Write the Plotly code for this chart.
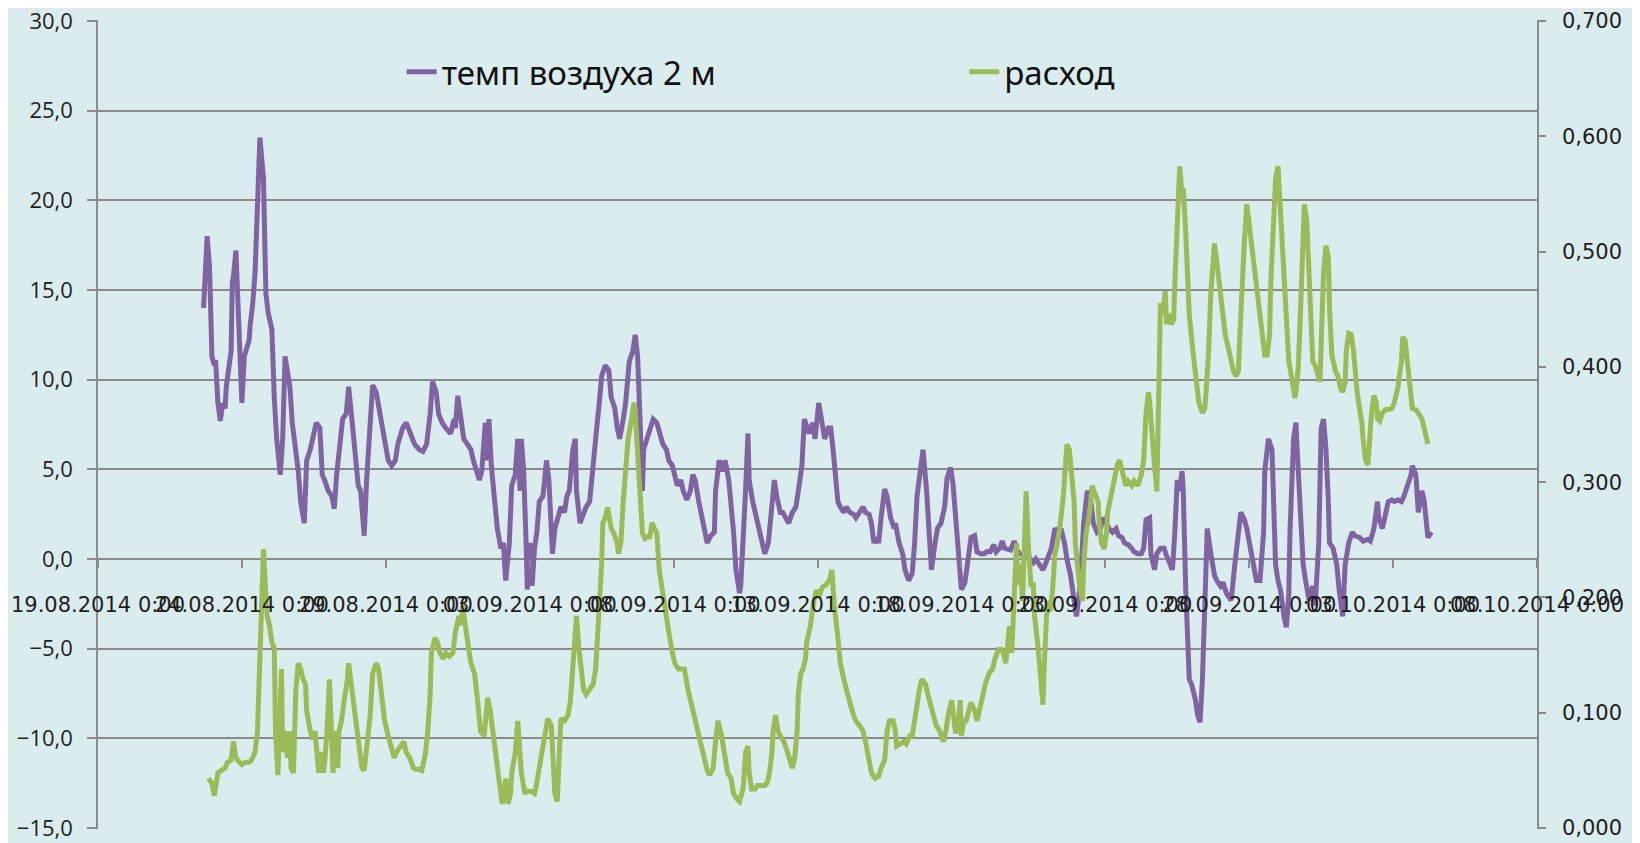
import pandas as pd
import plotly.graph_objects as go

BASE = pd.Timestamp("2014-08-19 00:00")

# air temperature at 2 m: hours since 19.08.2014 0:00 and values (°C)
temp_hours = [88, 91, 93, 95, 97, 98, 100, 102, 104, 106, 107, 109, 111, 112, 113, 115, 117, 119, 120, 122,
              124, 126, 127, 129, 131, 133, 135, 138, 140, 142, 145, 147, 149, 152, 154, 156, 158, 160, 162, 165,
              167, 169, 172, 174, 177, 180, 182, 185, 187, 189, 192, 195, 197, 199, 202, 204, 207, 209, 212, 215,
              217, 219, 222, 224, 227, 229, 232, 235, 237, 240, 242, 245, 248, 250, 254, 257, 261, 264, 268, 271,
              274, 277, 279, 282, 284, 287, 290, 294, 297, 298, 300, 303, 305, 308, 311, 313, 316, 318, 320, 323,
              324, 326, 328, 331, 333, 336, 338, 340, 343, 345, 348, 350, 352, 353, 355, 357, 358, 360, 362, 364,
              366, 368, 371, 372, 374, 376, 378, 379, 381, 384, 386, 389, 391, 393, 396, 398, 399, 402, 405, 407,
              410, 412, 415, 418, 420, 423, 426, 428, 431, 433, 435, 438, 440, 443, 446, 448, 450, 452, 454, 455,
              458, 460, 463, 466, 468, 471, 474, 476, 479, 481, 483, 486, 488, 491, 494, 496, 498, 501, 503, 506,
              508, 511, 514, 515, 518, 521, 523, 526, 528, 530, 532, 535, 536, 538, 540, 542, 543, 546, 549, 551,
              554, 556, 559, 562, 564, 566, 569, 571, 574, 576, 579, 582, 584, 587, 589, 590, 593, 596, 598, 601,
              604, 606, 609, 611, 613, 615, 617, 619, 622, 624, 627, 630, 632, 635, 638, 640, 643, 645, 647, 649,
              651, 653, 656, 658, 661, 664, 665, 668, 671, 673, 676, 679, 681, 683, 686, 688, 691, 693, 695, 698,
              700, 703, 706, 708, 711, 713, 716, 718, 720, 723, 726, 728, 731, 733, 736, 739, 741, 744, 747, 749,
              752, 754, 756, 759, 761, 764, 767, 769, 772, 774, 777, 780, 782, 785, 788, 790, 793, 795, 798, 801,
              803, 806, 808, 811, 814, 816, 819, 822, 825, 828, 830, 833, 836, 838, 841, 843, 846, 849, 851, 854,
              856, 859, 862, 864, 867, 870, 872, 874, 877, 878, 881, 883, 886, 889, 891, 894, 896, 898, 900, 902,
              904, 905, 907, 910, 912, 915, 917, 919, 921, 923, 925, 928, 931, 933, 936, 938, 941, 944, 945, 948,
              951, 953, 956, 958, 961, 964, 966, 969, 972, 973, 976, 979, 980, 982, 984, 986, 989, 991, 993, 994,
              997, 999, 1000, 1002, 1005, 1007, 1010, 1013, 1015, 1018, 1020, 1022, 1024, 1026, 1027, 1030, 1033,
              1035, 1038, 1040, 1043, 1046, 1048, 1052, 1055, 1059, 1061, 1064, 1067, 1068, 1071, 1074, 1076, 1079,
              1081, 1084, 1087, 1089, 1092, 1095, 1096, 1099, 1101, 1102, 1104, 1106, 1108, 1109, 1112]
temp_values = [14.0, 18.0, 16.3, 11.3, 10.8, 11.1, 8.7, 7.7, 8.7, 8.4, 9.6, 10.8, 11.6, 15.4, 15.8, 17.2, 13.7, 9.0, 8.7, 11.3,
               11.9, 12.2, 13.1, 14.2, 16.0, 19.5, 23.5, 21.2, 14.8, 13.7, 12.8, 9.0, 6.7, 4.7, 6.7, 11.3, 10.2, 9.6, 7.6, 6.1,
               4.9, 3.2, 2.0, 5.5, 6.1, 7.0, 7.6, 7.3, 4.7, 4.4, 3.8, 3.5, 2.8, 4.7, 6.7, 7.8, 8.1, 9.6, 7.6, 5.5,
               4.1, 3.8, 1.3, 4.4, 7.8, 9.7, 9.3, 8.1, 7.3, 6.1, 5.5, 5.2, 5.5, 6.4, 7.3, 7.6, 7.0, 6.4, 6.1, 6.0,
               6.4, 8.1, 9.9, 9.3, 8.1, 7.6, 7.3, 7.0, 7.8, 7.3, 9.1, 7.6, 6.7, 6.4, 6.1, 5.5, 4.9, 4.4, 4.9, 7.6,
               5.5, 7.8, 5.2, 3.2, 1.7, 0.6, 0.9, -1.2, 0.9, 4.1, 4.7, 6.7, 3.8, 6.7, 4.9, 0.9, -1.7, 0.9, -1.5, 0.6,
               1.5, 3.2, 3.5, 4.1, 5.5, 4.4, 1.5, 0.3, 1.7, 2.6, 2.9, 2.6, 3.5, 3.8, 6.1, 6.7, 3.8, 2.0, 2.6, 2.9,
               3.2, 4.9, 6.7, 8.7, 10.2, 10.8, 10.5, 9.0, 8.4, 7.3, 6.7, 7.8, 8.7, 11.0, 11.6, 12.5, 11.3, 7.8, 3.8, 6.1,
               6.7, 7.3, 7.8, 7.6, 7.0, 6.4, 6.1, 5.5, 5.2, 4.7, 4.1, 4.4, 3.8, 3.3, 3.8, 4.7, 4.4, 3.2, 2.6, 1.5,
               0.9, 1.3, 1.5, 3.8, 5.5, 4.9, 5.5, 4.4, 3.2, 1.5, -0.6, -1.9, -1.5, 0.9, 3.8, 7.0, 4.4, 3.2, 2.3, 1.5,
               0.6, 0.3, 0.9, 2.9, 4.4, 3.5, 2.6, 2.6, 2.3, 2.0, 2.6, 2.9, 3.8, 5.2, 7.8, 7.6, 7.0, 7.6, 6.7, 8.7,
               7.6, 6.7, 7.3, 7.3, 6.1, 4.4, 3.2, 2.9, 2.6, 2.9, 2.6, 2.5, 2.3, 2.6, 2.9, 2.6, 2.5, 2.0, 0.9, 1.2,
               0.9, 2.3, 3.9, 3.5, 2.3, 1.7, 2.0, 0.9, 0.3, -0.6, -1.2, -0.8, 0.9, 3.5, 5.2, 6.1, 3.8, 1.5, -0.6, 0.9,
               1.7, 2.0, 2.9, 4.5, 5.1, 4.2, 1.7, -0.6, -1.7, -1.3, 0.3, 1.2, 1.3, 0.4, 0.3, 0.3, 0.4, 0.4, 0.8, 0.4,
               0.6, 1.0, 0.6, 0.5, 0.5, 1.0, 0.4, 0.3, 0.2, 0.3, 0.0, -0.2, 0.0, -0.3, -0.6, -0.3, 0.3, 0.6, 1.7, 1.5,
               1.7, 0.9, 0.0, -0.9, -2.3, -3.2, -1.5, 2.0, 3.8, 3.2, 2.0, 1.5, 1.7, 2.3, 2.0, 1.7, 1.5, 1.7, 1.3, 1.2,
               0.9, 0.8, 0.6, 0.4, 0.3, 0.3, 0.6, 2.2, 2.3, 0.3, -0.6, 0.3, 0.6, 0.6, 0.2, -0.3, -0.6, 1.5, 4.4, 3.8,
               4.9, 3.8, -1.5, -6.7, -7.0, -7.8, -8.7, -9.1, -6.7, -2.6, 1.7, 0.3, -0.9, -1.2, -1.5, -1.3, -1.9, -2.2, -2.3, -0.3,
               1.5, 2.6, 2.2, 1.7, 0.6, -0.3, -1.2, -1.2, 1.5, 4.9, 6.7, 6.1, 3.2, -0.3, -1.2, -1.7, -3.2, -3.8, -2.0, 1.5,
               6.7, 7.6, 6.1, 3.2, -0.3, -1.2, -2.3, -1.5, -2.6, 0.9, 7.3, 7.8, 6.1, 3.2, 0.9, 0.6, -0.3,
               -1.7, -3.2, -0.3, 0.9, 1.5, 1.3, 1.2, 1.0, 1.1, 1.0, 1.7, 3.2, 2.3, 1.7, 2.6, 3.2, 3.3,
               3.2, 3.3, 3.2, 3.5, 4.1, 4.7, 5.2, 4.7, 2.6, 3.2, 3.8, 3.2, 1.7, 1.2, 1.5]

# discharge: hours since 19.08.2014 0:00 and values
flow_hours = [92, 95, 97, 99, 100, 103, 106, 108, 111, 113, 115, 118, 120, 123, 126, 128, 131, 133, 135, 137,
              138, 140, 141, 143, 145, 147, 148, 150, 152, 153, 154, 156, 158, 160, 161, 163, 165, 167, 169, 171,
              173, 174, 177, 179, 181, 182, 184, 186, 188, 189, 191, 193, 194, 196, 198, 200, 201, 203, 206, 208,
              209, 211, 213, 215, 217, 220, 222, 224, 227, 229, 232, 234, 236, 239, 242, 244, 247, 249, 252, 255,
              257, 260, 263, 265, 268, 270, 273, 275, 277, 278, 281, 283, 285, 288, 290, 293, 296, 298, 301, 303,
              304, 306, 309, 311, 314, 316, 317, 319, 322, 324, 325, 327, 329, 331, 333, 335, 337, 338, 340, 342,
              344, 345, 348, 350, 351, 353, 356, 358, 361, 364, 365, 368, 371, 373, 375, 378, 379, 381, 383, 385,
              386, 389, 392, 394, 396, 398, 399, 401, 403, 405, 407, 410, 413, 415, 418, 420, 421, 423, 425, 427,
              428, 430, 433, 434, 436, 438, 440, 442, 445, 447, 448, 450, 452, 454, 456, 459, 460, 462, 464, 466,
              468, 471, 474, 476, 479, 481, 484, 487, 489, 492, 495, 497, 500, 502, 505, 508, 510, 513, 515, 517,
              520, 522, 525, 528, 530, 533, 535, 538, 540, 542, 543, 545, 548, 550, 553, 556, 558, 560, 562, 563,
              565, 567, 569, 572, 575, 577, 579, 581, 583, 584, 586, 588, 590, 591, 594, 597, 599, 602, 604, 607,
              610, 612, 614, 617, 619, 622, 624, 627, 630, 632, 635, 638, 640, 643, 645, 648, 651, 653, 656, 658,
              660, 663, 665, 666, 669, 672, 674, 677, 679, 681, 683, 685, 687, 690, 692, 694, 697, 699, 702, 705,
              707, 709, 712, 713, 715, 717, 719, 720, 722, 724, 726, 728, 731, 733, 735, 738, 740, 743, 746, 748,
              751, 753, 755, 757, 759, 760, 762, 764, 766, 767, 769, 771, 773, 774, 776, 778, 780, 781, 784, 786,
              788, 789, 791, 793, 794, 796, 798, 800, 802, 805, 807, 808, 810, 812, 814, 815, 817, 819, 821, 822,
              824, 827, 829, 831, 834, 835, 837, 839, 841, 842, 845, 848, 850, 852, 854, 856, 857, 859, 862, 864,
              867, 870, 872, 874, 876, 877, 879, 881, 883, 884, 886, 888, 890, 891, 893, 895, 897, 898, 900, 902,
              904, 905, 907, 909, 910, 913, 916, 918, 921, 923, 924, 926, 928, 930, 931, 933, 935, 937, 938, 940,
              942, 944, 945, 947, 949, 951, 952, 954, 956, 958, 959, 961, 963, 965, 968, 971, 973, 975, 977, 978,
              980, 982, 984, 985, 987, 989, 991, 993, 996, 998, 999, 1001, 1003, 1005, 1006, 1008, 1010, 1012, 1013, 1015,
              1017, 1019, 1020, 1022, 1024, 1026, 1027, 1029, 1032, 1034, 1036, 1038, 1040, 1041, 1043, 1045, 1047, 1048, 1050, 1052,
              1054, 1055, 1057, 1059, 1060, 1062, 1064, 1066, 1067, 1069, 1071, 1074, 1076, 1079, 1081, 1084, 1087, 1088, 1090, 1092,
              1094, 1096, 1099, 1101, 1104, 1107, 1109]
flow_values = [0.043, 0.039, 0.028, 0.039, 0.048, 0.050, 0.052, 0.057, 0.059, 0.075, 0.061, 0.057, 0.055, 0.057, 0.057, 0.059, 0.066, 0.084, 0.156, 0.211,
               0.242, 0.202, 0.184, 0.176, 0.161, 0.156, 0.084, 0.046, 0.102, 0.138, 0.066, 0.084, 0.061, 0.084, 0.052, 0.048, 0.120, 0.143, 0.138, 0.129,
               0.125, 0.102, 0.084, 0.077, 0.084, 0.066, 0.048, 0.066, 0.048, 0.057, 0.084, 0.129, 0.093, 0.048, 0.084, 0.052, 0.084, 0.093, 0.116, 0.129,
               0.143, 0.125, 0.111, 0.093, 0.075, 0.052, 0.050, 0.066, 0.098, 0.134, 0.143, 0.138, 0.116, 0.093, 0.080, 0.071, 0.061, 0.066, 0.071, 0.075,
               0.066, 0.061, 0.052, 0.051, 0.051, 0.050, 0.064, 0.084, 0.116, 0.152, 0.165, 0.161, 0.152, 0.147, 0.152, 0.149, 0.152, 0.170, 0.184, 0.176,
               0.193, 0.175, 0.156, 0.143, 0.134, 0.116, 0.102, 0.084, 0.080, 0.102, 0.113, 0.102, 0.084, 0.066, 0.048, 0.034, 0.021, 0.026, 0.043, 0.021,
               0.030, 0.048, 0.066, 0.093, 0.075, 0.048, 0.030, 0.032, 0.032, 0.030, 0.034, 0.052, 0.066, 0.084, 0.095, 0.089, 0.066, 0.030, 0.023, 0.084,
               0.095, 0.093, 0.098, 0.111, 0.138, 0.175, 0.184, 0.156, 0.134, 0.120, 0.116, 0.120, 0.125, 0.138, 0.184, 0.229, 0.265, 0.269, 0.278, 0.265,
               0.260, 0.256, 0.247, 0.238, 0.247, 0.283, 0.319, 0.337, 0.355, 0.369, 0.360, 0.319, 0.283, 0.256, 0.251, 0.253, 0.251, 0.265, 0.260, 0.256,
               0.224, 0.202, 0.184, 0.170, 0.152, 0.143, 0.138, 0.138, 0.138, 0.120, 0.107, 0.098, 0.084, 0.073, 0.061, 0.050, 0.046, 0.052, 0.075, 0.093,
               0.080, 0.066, 0.048, 0.043, 0.030, 0.025, 0.023, 0.034, 0.066, 0.071, 0.048, 0.034, 0.034, 0.037, 0.037, 0.037, 0.039, 0.048, 0.066, 0.084,
               0.098, 0.084, 0.080, 0.075, 0.066, 0.057, 0.052, 0.061, 0.084, 0.116, 0.134, 0.138, 0.147, 0.161, 0.175, 0.197, 0.206, 0.203, 0.209, 0.211,
               0.215, 0.224, 0.193, 0.165, 0.143, 0.129, 0.120, 0.109, 0.098, 0.093, 0.089, 0.084, 0.075, 0.061, 0.048, 0.043, 0.045, 0.052, 0.059, 0.084,
               0.093, 0.093, 0.084, 0.071, 0.073, 0.075, 0.073, 0.080, 0.080, 0.093, 0.111, 0.120, 0.129, 0.125, 0.116, 0.107, 0.098, 0.089, 0.084, 0.075,
               0.084, 0.098, 0.111, 0.098, 0.084, 0.084, 0.111, 0.080, 0.093, 0.093, 0.102, 0.109, 0.102, 0.093, 0.102, 0.116, 0.125, 0.134, 0.138, 0.147,
               0.155, 0.155, 0.152, 0.143, 0.165, 0.175, 0.152, 0.197, 0.247, 0.211, 0.229, 0.197, 0.256, 0.292, 0.242, 0.211, 0.211, 0.184, 0.156, 0.125,
               0.107, 0.138, 0.184, 0.197, 0.188, 0.206, 0.238, 0.247, 0.260, 0.288, 0.315, 0.333, 0.328, 0.310, 0.283, 0.247, 0.224, 0.206, 0.197, 0.229,
               0.256, 0.274, 0.297, 0.292, 0.283, 0.265, 0.247, 0.242, 0.256, 0.274, 0.288, 0.306, 0.315, 0.319, 0.310, 0.301, 0.297, 0.301, 0.297, 0.301,
               0.297, 0.306, 0.319, 0.360, 0.378, 0.369, 0.337, 0.315, 0.292, 0.355, 0.455, 0.446, 0.466, 0.437, 0.446, 0.437, 0.441, 0.473, 0.523, 0.574,
               0.550, 0.555, 0.518, 0.482, 0.446, 0.414, 0.387, 0.369, 0.360, 0.364, 0.378, 0.410, 0.464, 0.500, 0.507, 0.491, 0.473, 0.455, 0.441, 0.428,
               0.419, 0.410, 0.405, 0.396, 0.392, 0.396, 0.423, 0.473, 0.509, 0.541, 0.532, 0.518, 0.495, 0.473, 0.446, 0.423, 0.410, 0.410, 0.428, 0.473,
               0.527, 0.563, 0.574, 0.555, 0.509, 0.464, 0.428, 0.405, 0.387, 0.373, 0.378, 0.401, 0.455, 0.514, 0.541, 0.527, 0.482, 0.428, 0.405, 0.401,
               0.392, 0.387, 0.419, 0.482, 0.505, 0.495, 0.450, 0.410, 0.396, 0.392, 0.382, 0.378, 0.387, 0.414, 0.429, 0.428, 0.414, 0.396, 0.378, 0.364,
               0.351, 0.337, 0.319, 0.315, 0.333, 0.360, 0.375, 0.369, 0.355, 0.353, 0.360, 0.363, 0.363, 0.364, 0.369, 0.382, 0.405, 0.426, 0.423, 0.405,
               0.382, 0.364, 0.363, 0.360, 0.355, 0.342, 0.333]

tick_dates = ["2014-08-19", "2014-08-24", "2014-08-29", "2014-09-03", "2014-09-08", "2014-09-13",
              "2014-09-18", "2014-09-23", "2014-09-28", "2014-10-03", "2014-10-08"]
tick_labels = ["19.08.2014 0:00", "24.08.2014 0:00", "29.08.2014 0:00", "03.09.2014 0:00", "08.09.2014 0:00",
               "13.09.2014 0:00", "18.09.2014 0:00", "23.09.2014 0:00", "28.09.2014 0:00", "03.10.2014 0:00",
               "08.10.2014 0:00"]
temp_ticks = [-15, -10, -5, 0, 5, 10, 15, 20, 25, 30]
flow_ticks = [0, 0.1, 0.2, 0.3, 0.4, 0.5, 0.6, 0.7]

temp_name = "темп воздуха 2 м"
flow_name = "расход"

temp_t = BASE + pd.to_timedelta(temp_hours, unit="h")
flow_t = BASE + pd.to_timedelta(flow_hours, unit="h")

BG = "#DAECEE"
GRID = "#8A8A8A"

fig = go.Figure()
fig.add_trace(go.Scatter(x=temp_t, y=temp_values, name=temp_name, mode="lines",
                         line=dict(color="#8064A2", width=5), yaxis="y", legend="legend"))
fig.add_trace(go.Scatter(x=flow_t, y=flow_values, name=flow_name, mode="lines",
                         line=dict(color="#9BBB59", width=5), yaxis="y2", legend="legend2"))

fig.update_layout(
    width=1640, height=843,
    margin=dict(l=90, r=111, t=12, b=22),
    paper_bgcolor=BG, plot_bgcolor=BG,
    separators=", ",
    showlegend=True,
    xaxis=dict(type="date", range=["2014-08-19", "2014-10-08"],
               tickvals=tick_dates, ticktext=tick_labels, tickangle=0,
               anchor="free", position=1/3, showline=False,
               ticks="outside", ticklen=8, tickcolor=GRID, tickwidth=1.5,
               showgrid=False, zeroline=False, automargin=False,
               ticklabelstandoff=18, ticklabeloverflow="allow",
               tickfont=dict(family="DejaVu Sans", size=21, color="#1E1E1E")),
    yaxis=dict(range=[-15.05, 30.05], tickvals=temp_ticks, tickformat=".1f",
               showgrid=True, gridcolor=GRID, gridwidth=1.5,
               zeroline=True, zerolinecolor=GRID, zerolinewidth=1.5,
               showline=True, linecolor=GRID, linewidth=1.5,
               ticks="outside", ticklen=9, tickcolor=GRID, tickwidth=1.5,
               ticklabelstandoff=10, automargin=False, ticklabeloverflow="allow",
               tickfont=dict(family="Open Sans", size=22, color="#1E1E1E")),
    yaxis2=dict(range=[-0.00078, 0.70078], tickvals=flow_ticks, tickformat=".3f",
                overlaying="y", side="right", showgrid=False, zeroline=False,
                showline=True, linecolor=GRID, linewidth=1.5,
                ticks="outside", ticklen=7, tickcolor=GRID, tickwidth=1.5,
                ticklabelstandoff=12, automargin=False, ticklabeloverflow="allow",
                tickfont=dict(family="DejaVu Sans", size=21, color="#1E1E1E")),
    legend=dict(x=0.211, y=0.936, xanchor="left", yanchor="middle", orientation="h",
                bgcolor="rgba(0,0,0,0)", font=dict(family="Noto Sans", size=33, color="#111111")),
    legend2=dict(x=0.602, y=0.936, xanchor="left", yanchor="middle", orientation="h",
                 bgcolor="rgba(0,0,0,0)", font=dict(family="Noto Sans", size=33, color="#111111")),
)

fig.write_html("out.html")
